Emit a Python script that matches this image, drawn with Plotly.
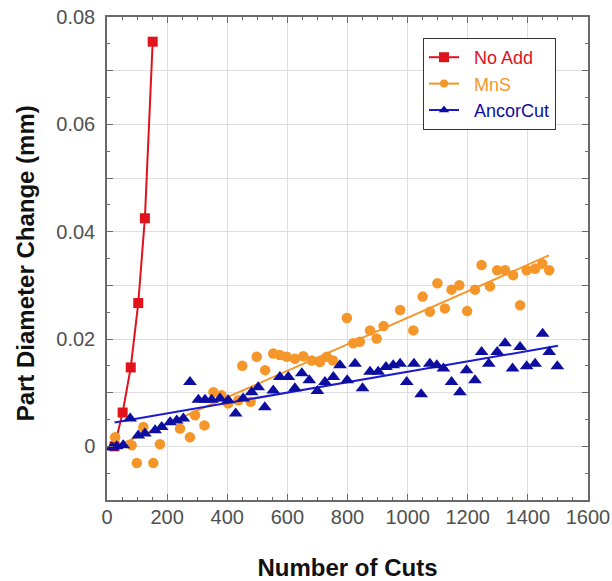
import plotly.graph_objects as go
import numpy as np

# ---- data ----
noadd_x = [25, 52, 79, 104, 126, 152]
noadd_y = [0.0, 0.0063, 0.0147, 0.0267, 0.0425, 0.0754]

mns_x = [27, 82, 99, 121, 154, 176, 243, 276, 293, 324, 354, 381, 403, 437, 450, 478,
         498, 526, 553, 575, 598, 625, 653, 681, 708, 731, 752, 798, 819, 841, 875, 897,
         920, 975, 1019, 1050, 1074, 1099, 1124, 1146, 1172, 1198, 1224, 1246, 1274, 1298,
         1324, 1351, 1374, 1396, 1424, 1448, 1471]
mns_y = [0.0017, 0.0002, -0.0031, 0.0036, -0.0031, 0.0004, 0.0033, 0.0017, 0.0058, 0.0039,
         0.0101, 0.0095, 0.0080, 0.0086, 0.0150, 0.0083,
         0.0167, 0.0142, 0.0173, 0.0170, 0.0167, 0.0163, 0.0168, 0.0160, 0.0157, 0.0167,
         0.0160, 0.0239, 0.0192, 0.0195, 0.0216, 0.0201,
         0.0224, 0.0254, 0.0216, 0.0279, 0.0251, 0.0304, 0.0257, 0.0292, 0.0300, 0.0252,
         0.0292, 0.0338, 0.0298, 0.0328,
         0.0328, 0.0319, 0.0263, 0.0328, 0.0331, 0.0340, 0.0328]

ancor_x = [16, 32, 54, 77, 104, 126, 160, 182, 210, 232, 254, 276, 304, 326, 348, 376,
           403, 428, 453, 481, 503, 525, 553, 575, 603, 625, 648, 673, 700, 725, 753, 775,
           799, 825, 850, 875, 902, 928, 952, 975, 997, 1021, 1045, 1074, 1097, 1119, 1146,
           1174, 1196, 1224, 1246, 1270, 1298, 1324, 1349, 1374, 1396, 1424, 1449, 1471, 1498]
ancor_y = [-0.0002, 0.0, 0.0002, 0.0052, 0.0020, 0.0024, 0.0030, 0.0036, 0.0045, 0.0048,
           0.0052, 0.0120, 0.0087, 0.0087, 0.0087, 0.0089,
           0.0086, 0.0061, 0.0089, 0.0101, 0.0110, 0.0073, 0.0104, 0.0129, 0.0129, 0.0108,
           0.0136, 0.0123, 0.0103, 0.0120, 0.0129, 0.0151,
           0.0123, 0.0154, 0.0108, 0.0139, 0.0139, 0.0148, 0.0151, 0.0154, 0.0120, 0.0154,
           0.0097, 0.0154, 0.0151, 0.0145, 0.0120,
           0.0101, 0.0142, 0.0123, 0.0176, 0.0154, 0.0176, 0.0192, 0.0145, 0.0185, 0.0149,
           0.0154, 0.0210, 0.0176, 0.0149]

# linear fit lines (slope, intercept, x-range)
mns_fit = (2.47e-5, -0.00074, [20, 1470])
ancor_fit = (9.69e-6, 0.0042, [25, 1500])

series_names = ["No Add", "MnS", "AncorCut"]

RED = "#e0121c"
ORANGE = "#f5962a"
BLUE = "#0d0da0"
BLUE_LINE = "#1a1ad0"

x_ticks = [0, 200, 400, 600, 800, 1000, 1200, 1400, 1600]
y_tickvals = [-0.01, 0, 0.01, 0.02, 0.03, 0.04, 0.05, 0.06, 0.07, 0.08]
y_ticktext = ["", "0", "", "0.02", "", "0.04", "", "0.06", "", "0.08"]

FONT = "Liberation Sans, Arial, sans-serif"

fig = go.Figure()

def fit_line(fit):
    s, b, rng = fit
    xs = np.array(rng, dtype=float)
    return xs, s * xs + b

def lname(txt, col):
    return "<span style='color:%s'>&nbsp;&nbsp;%s</span>" % (col, txt)

# No Add
fig.add_trace(go.Scatter(x=noadd_x, y=noadd_y, mode="lines+markers",
                         line=dict(color=RED, width=2),
                         marker=dict(symbol="square", size=10, color=RED),
                         name=lname(series_names[0], RED)))
# MnS
fx, fy = fit_line(mns_fit)
fig.add_trace(go.Scatter(x=fx, y=fy, mode="lines", line=dict(color=ORANGE, width=2),
                         showlegend=False, hoverinfo="skip"))
fig.add_trace(go.Scatter(x=mns_x, y=mns_y, mode="markers",
                         marker=dict(symbol="circle", size=10.5, color=ORANGE),
                         showlegend=False, name=series_names[1]))
fig.add_trace(go.Scatter(x=[None], y=[None], mode="lines+markers",
                         line=dict(color=ORANGE, width=2),
                         marker=dict(symbol="circle", size=8, color=ORANGE),
                         name=lname(series_names[1], ORANGE)))
# AncorCut
fx, fy = fit_line(ancor_fit)
fig.add_trace(go.Scatter(x=fx, y=fy, mode="lines", line=dict(color=BLUE_LINE, width=2),
                         showlegend=False, hoverinfo="skip"))
fig.add_trace(go.Scatter(x=ancor_x, y=ancor_y, mode="markers",
                         marker=dict(symbol="triangle-up", size=12, color=BLUE),
                         showlegend=False, name=series_names[2]))
fig.add_trace(go.Scatter(x=[None], y=[None], mode="lines+markers",
                         line=dict(color=BLUE_LINE, width=2),
                         marker=dict(symbol="triangle-up", size=9, color=BLUE),
                         name=lname(series_names[2], BLUE)))

axis_common = dict(showline=True, linecolor="#6a6a6a", linewidth=1.5, mirror="ticks",
                   ticks="inside", ticklen=6, tickcolor="#6a6a6a",
                   showgrid=True, gridcolor="#dedede", gridwidth=1, zeroline=False,
                   automargin=False,
                   tickfont=dict(family=FONT, size=20, color="#505050"))

fig.update_xaxes(range=[0, 1600], tickvals=x_ticks, **axis_common,
                 ticklabelstandoff=-2,
                 minor=dict(dtick=50, ticks="inside", ticklen=3, tickcolor="#6a6a6a", showgrid=False),
                 title=dict(text="<b>Number of Cuts</b>", standoff=36,
                            font=dict(family=FONT, size=24, color="#111111")))
fig.update_yaxes(range=[-0.01, 0.08], tickvals=y_tickvals, ticktext=y_ticktext, **axis_common,
                 ticklabelstandoff=6,
                 minor=dict(dtick=0.005, ticks="inside", ticklen=3, tickcolor="#6a6a6a", showgrid=False))

fig.update_layout(
    width=612, height=581,
    margin=dict(l=107, r=24, t=17, b=81),
    plot_bgcolor="white", paper_bgcolor="white",
    showlegend=True,
    legend=dict(x=0.657, y=0.9565, xanchor="left", yanchor="top",
                bgcolor="white", bordercolor="#333333", borderwidth=1,
                font=dict(family=FONT, size=18),
                itemwidth=30, tracegroupgap=0),
    annotations=[dict(text="<b>Part Diameter Change (mm)</b>", textangle=-90,
                      xref="paper", yref="paper", x=(25 - 107) / 481, y=0.49,
                      xanchor="center", yanchor="middle", showarrow=False,
                      font=dict(family=FONT, size=24, color="#111111"))],
)

fig.write_html("out.html", config={"displayModeBar": False},
               post_script="document.body.style.margin='0';")
